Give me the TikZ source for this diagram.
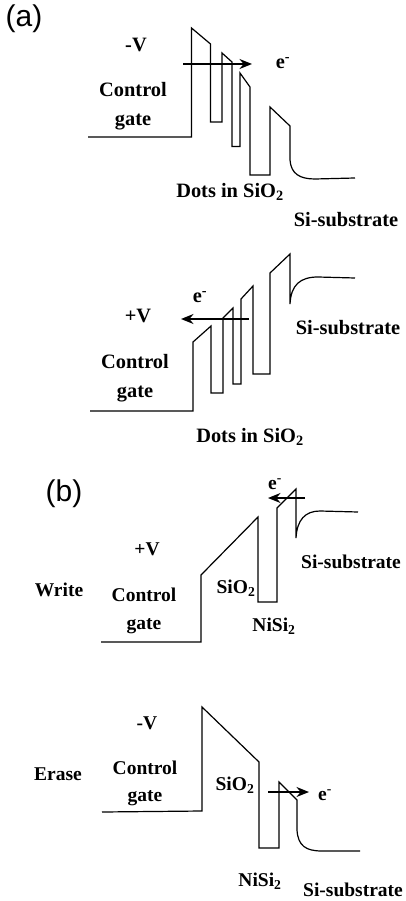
\documentclass[tikz,border=0pt]{standalone}
\usepackage{fontspec}
\setmainfont{Liberation Serif}
\newfontfamily\panelfont{Liberation Sans}
\usetikzlibrary{arrows.meta}
\tikzset{
  lbl/.style={font=\fontsize{19.5}{22}\selectfont\bfseries, inner sep=0pt},
  lbla/.style={font=\fontsize{20.4}{23}\selectfont\bfseries, inner sep=0pt},
  panel/.style={font=\fontsize{30}{34}\panelfont, inner sep=0pt},
  band/.style={line width=1.2pt, line join=miter},
  flow/.style={line width=1.6pt, -{Stealth[length=12.5pt,width=10pt]}}
}
\begin{document}
\begin{tikzpicture}[x=1pt, y=-1pt]
  \useasboundingbox (0, 0) rectangle (406, 901);
  % (a) top
  \node[panel] (A) at (24, 19) {(a)};
  \draw[band] (88, 137) -- (191.5, 137) -- (191.5, 28) -- (210.5, 44) -- (210.5, 122) -- (222, 122) -- (222, 53) -- (232, 62) -- (232, 146.5) -- (240, 146.5) -- (240, 73) -- (250, 87) -- (250, 175) -- (270, 175) -- (270, 107) -- (290, 126) -- (290, 160) .. controls (291, 174) and (300, 179) .. (315, 179) -- (355, 178);
  \coordinate (A1s) at (183, 64);
  \coordinate (A1e) at (252, 64);
  \draw[flow] (A1s) -- (A1e);
  \node[lbla] (A1v) at (136, 45) {-V};
  \node[lbla] (A1x) at (283, 63) {e\textsuperscript{-}};
  \node[lbla] (A1c) at (133, 90) {Control};
  \node[lbla] (A1g) at (133, 122) {gate};
  \node[lbla] (A1d) at (230, 192) {Dots in SiO\textsubscript{2}};
  \node[lbla] (A1t) at (346, 220) {Si-substrate};
  % (a) bottom
  \draw[band] (90, 411) -- (193, 411) -- (193, 342) -- (211, 326) -- (211, 393) -- (223, 393) -- (223, 318) -- (233, 308) -- (233, 384) -- (241, 384) -- (241, 299) -- (253, 286) -- (253, 374) -- (270, 374) -- (270, 273) -- (290, 254) -- (290, 304) .. controls (291, 285) and (300, 277) .. (318, 277) -- (355, 278);
  \coordinate (A2s) at (249, 319);
  \coordinate (A2e) at (181, 319);
  \draw[flow] (A2s) -- (A2e);
  \node[lbla] (A2v) at (138, 316) {+V};
  \node[lbla] (A2x) at (200, 297) {e\textsuperscript{-}};
  \node[lbla] (A2c) at (135, 362) {Control};
  \node[lbla] (A2g) at (135, 394) {gate};
  \node[lbla] (A2d) at (250, 437) {Dots in SiO\textsubscript{2}};
  \node[lbla] (A2t) at (348, 328) {Si-substrate};
  % (b) write
  \node[panel] (B) at (64, 494) {(b)};
  \draw[band] (101, 642) -- (201, 642) -- (201, 575) -- (258, 517) -- (258, 602) -- (277, 602) -- (277, 508) -- (296, 489) -- (296, 538) .. controls (297, 520) and (305, 511) .. (320, 511) -- (358, 512);
  \coordinate (B1s) at (305, 498);
  \coordinate (B1e) at (268, 498);
  \draw[flow] (B1s) -- (B1e);
  \node[lbl] (B1v) at (147, 549) {+V};
  \node[lbl] (B1w) at (59, 590) {Write};
  \node[lbl] (B1x) at (275, 484) {e\textsuperscript{-}};
  \node[lbl] (B1c) at (144, 595) {Control};
  \node[lbl] (B1g) at (144, 626) {gate};
  \node[lbl] (B1o) at (236, 588) {SiO\textsubscript{2}};
  \node[lbl] (B1n) at (274, 626) {NiSi\textsubscript{2}};
  \node[lbl] (B1t) at (351, 562) {Si-substrate};
  % (b) erase
  \draw[band] (102, 812) -- (202, 811) -- (202, 707) -- (259, 762) -- (259, 848) -- (279, 848) -- (279, 782) -- (297, 800) -- (297, 830) .. controls (298, 846) and (306, 851) .. (322, 851) -- (360, 851);
  \coordinate (B2s) at (268, 792);
  \coordinate (B2e) at (309, 792);
  \draw[flow] (B2s) -- (B2e);
  \node[lbl] (B2v) at (147, 723) {-V};
  \node[lbl] (B2w) at (58, 774) {Erase};
  \node[lbl] (B2x) at (325, 795) {e\textsuperscript{-}};
  \node[lbl] (B2c) at (145, 768) {Control};
  \node[lbl] (B2g) at (145, 798) {gate};
  \node[lbl] (B2o) at (235, 785) {SiO\textsubscript{2}};
  \node[lbl] (B2n) at (260, 881) {NiSi\textsubscript{2}};
  \node[lbl] (B2t) at (353, 890) {Si-substrate};
\end{tikzpicture}
\end{document}
